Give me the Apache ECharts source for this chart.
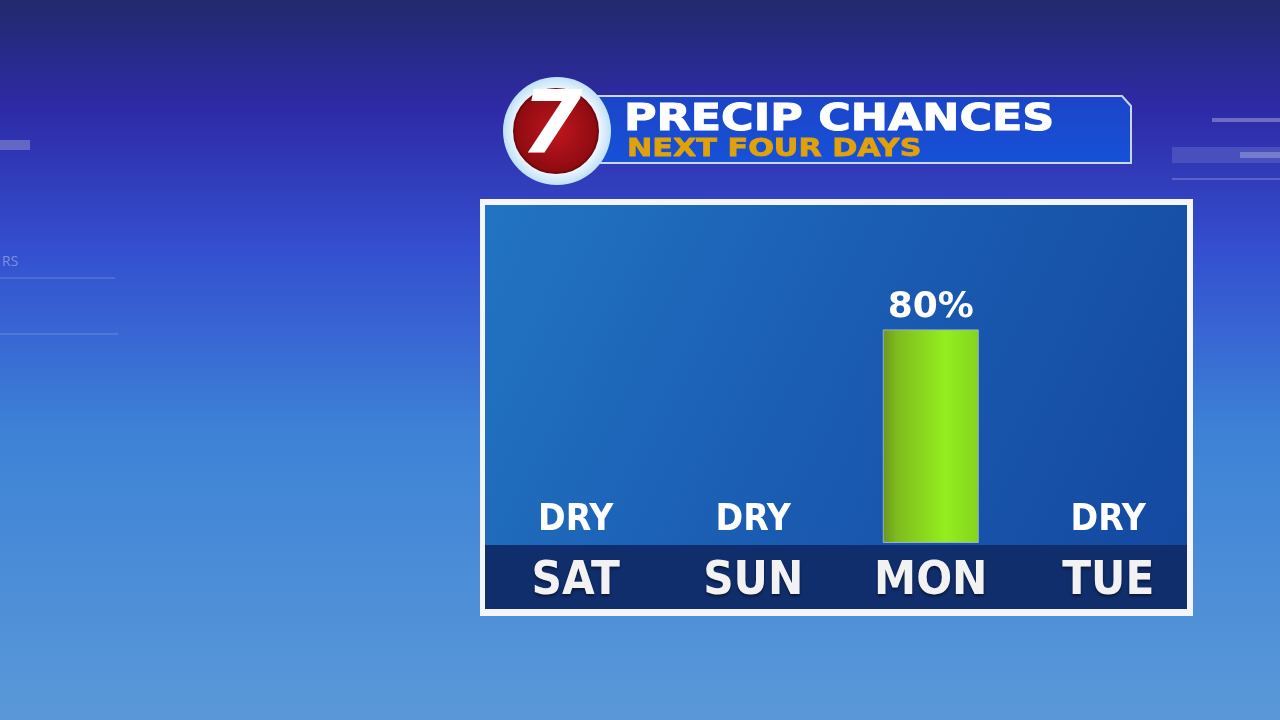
<!DOCTYPE html>
<html>
<head>
<meta charset="utf-8">
<title>Precip Chances</title>
<script src="https://cdn.jsdelivr.net/npm/echarts@6/dist/echarts.min.js"></script>
<style>
  html, body { margin: 0; padding: 0; background: #2a3a9a; }
  #chart { width: 1280px; height: 720px; }
</style>
</head>
<body>
<div id="chart"></div>
<script>
// data read from the graphic
const days = ['SAT', 'SUN', 'MON', 'TUE'];
const chances = [0, 0, 80, 0];
const titleText = 'PRECIP CHANCES';
const subText = 'NEXT FOUR DAYS';

const narrow = '"Liberation Sans Narrow", "DejaVu Sans Condensed", sans-serif';
const wide = '"DejaVu Sans", Inter, sans-serif';

let myChart = echarts.init(document.getElementById('chart'));

// zero bars get no outline (otherwise a thin line shows under DRY)
const barData = chances.map(function (v) {
  return v === 0 ? { value: v, itemStyle: { borderWidth: 0, color: 'transparent' } } : v;
});

myChart.setOption({
  animation: false,
  backgroundColor: {
    type: 'linear', x: 0, y: 0, x2: 0, y2: 1,
    colorStops: [
      { offset: 0, color: '#222a6c' },
      { offset: 0.15, color: '#2e2aa6' },
      { offset: 0.35, color: '#3450d0' },
      { offset: 0.6, color: '#3d82d6' },
      { offset: 1, color: '#5a98d8' }
    ]
  },
  graphic: [
    // faint decorative lines in the background
    { type: 'rect', shape: { x: 0, y: 140, width: 30, height: 10 }, style: { fill: 'rgba(255,255,255,0.25)' }, silent: true },
    { type: 'rect', shape: { x: 0, y: 277, width: 115, height: 2 }, style: { fill: 'rgba(255,255,255,0.12)' }, silent: true },
    { type: 'rect', shape: { x: 0, y: 333, width: 118, height: 2 }, style: { fill: 'rgba(255,255,255,0.12)' }, silent: true },
    { type: 'text', left: 2, top: 255, style: { text: 'RS', fill: 'rgba(255,255,255,0.35)', font: '14px "Open Sans", sans-serif' }, silent: true },
    { type: 'rect', shape: { x: 1212, y: 118, width: 68, height: 4 }, style: { fill: 'rgba(255,255,255,0.3)' }, silent: true },
    { type: 'rect', shape: { x: 1172, y: 147, width: 108, height: 16 }, style: { fill: 'rgba(120,130,210,0.35)' }, silent: true },
    { type: 'rect', shape: { x: 1240, y: 152, width: 40, height: 6 }, style: { fill: 'rgba(255,255,255,0.25)' }, silent: true },
    { type: 'rect', shape: { x: 1172, y: 178, width: 108, height: 2 }, style: { fill: 'rgba(255,255,255,0.2)' }, silent: true },

    // panel: white frame, blue plot area, dark day band
    {
      type: 'rect', z: 0,
      shape: { x: 480, y: 199, width: 713, height: 417 },
      style: { fill: '#f4f6fb' }, silent: true
    },
    {
      type: 'rect', z: 1,
      shape: { x: 485, y: 205, width: 702, height: 340 },
      style: {
        fill: {
          type: 'linear', x: 0, y: 0, x2: 1, y2: 1,
          colorStops: [
            { offset: 0, color: '#2274c2' },
            { offset: 0.5, color: '#1a5cb2' },
            { offset: 1, color: '#1449a0' }
          ]
        }
      },
      silent: true
    },
    {
      type: 'rect', z: 1,
      shape: { x: 485, y: 545, width: 702, height: 64 },
      style: { fill: '#102d6c' }, silent: true
    },

    // header banner
    {
      type: 'polygon', z: 2,
      shape: { points: [[590, 96], [1122, 96], [1131, 106], [1131, 163], [590, 163]] },
      style: {
        fill: {
          type: 'linear', x: 0, y: 0, x2: 0, y2: 1,
          colorStops: [
            { offset: 0, color: '#1c44c8' },
            { offset: 1, color: '#1652d8' }
          ]
        },
        stroke: '#c8d6f2', lineWidth: 2
      },
      silent: true
    },
    {
      type: 'text', z: 3, x: 624, y: 102, scaleX: 1.2,
      style: { text: titleText, fill: '#ffffff', stroke: '#ffffff', lineWidth: 1, font: 'bold 37px ' + wide },
      silent: true
    },
    {
      type: 'text', z: 3, x: 627, y: 137, scaleX: 1.21,
      style: { text: subText, fill: '#e0a10a', stroke: '#e0a10a', lineWidth: 0.8, font: 'bold 25px ' + wide },
      silent: true
    },
    // 7 logo
    {
      type: 'circle', z: 4,
      shape: { cx: 557, cy: 131, r: 54 },
      style: {
        fill: {
          type: 'radial', x: 0.5, y: 0.5, r: 0.5,
          colorStops: [
            { offset: 0.7, color: '#ffffff' },
            { offset: 1, color: '#bfe0f8' }
          ]
        }
      },
      silent: true
    },
    {
      type: 'circle', z: 5,
      shape: { cx: 556, cy: 131, r: 42 },
      style: {
        fill: {
          type: 'radial', x: 0.5, y: 0.5, r: 0.5,
          colorStops: [
            { offset: 0, color: '#c0161e' },
            { offset: 1, color: '#8c0a10' }
          ]
        },
        stroke: '#6e0a0e', lineWidth: 2
      },
      silent: true
    },
    {
      type: 'text', z: 6, x: 521, y: 86,
      style: { text: '7', fill: '#ffffff', font: 'italic bold 88px ' + wide },
      silent: true
    }
  ],
  grid: {
    left: 487,
    right: 83,
    top: 276,
    bottom: 177,
    containLabel: false
  },
  xAxis: {
    type: 'category',
    data: days,
    axisLine: { show: false },
    axisTick: { show: false },
    axisLabel: {
      margin: 15,
      color: '#f2f2f2',
      fontFamily: narrow,
      fontWeight: 'bold',
      fontSize: 47,
      textShadowColor: 'rgba(0,0,0,0.5)',
      textShadowBlur: 3,
      textShadowOffsetY: 2
    },
    z: 10
  },
  yAxis: {
    type: 'value',
    min: 0,
    max: 100,
    show: false,
    splitLine: { show: false }
  },
  series: [
    {
      type: 'bar',
      data: barData,
      barWidth: 96,
      z: 10,
      itemStyle: {
        color: {
          type: 'linear', x: 0, y: 0, x2: 1, y2: 0,
          colorStops: [
            { offset: 0, color: '#6a9620' },
            { offset: 0.15, color: '#7fbc1e' },
            { offset: 0.65, color: '#94ee1e' },
            { offset: 1, color: '#84d41e' }
          ]
        },
        borderColor: '#9ab0c8',
        borderWidth: 1
      },
      label: {
        show: true,
        position: 'top',
        distance: 4,
        formatter: function (p) {
          return p.value === 0 ? '{dry|DRY}' : '{pct|' + p.value + '%}';
        },
        rich: {
          dry: {
            color: '#ffffff',
            fontFamily: narrow,
            fontWeight: 'bold',
            fontSize: 37
          },
          pct: {
            color: '#ffffff',
            fontFamily: wide,
            fontWeight: 'bold',
            fontSize: 36
          }
        }
      }
    }
  ]
});
</script>
</body>
</html>
